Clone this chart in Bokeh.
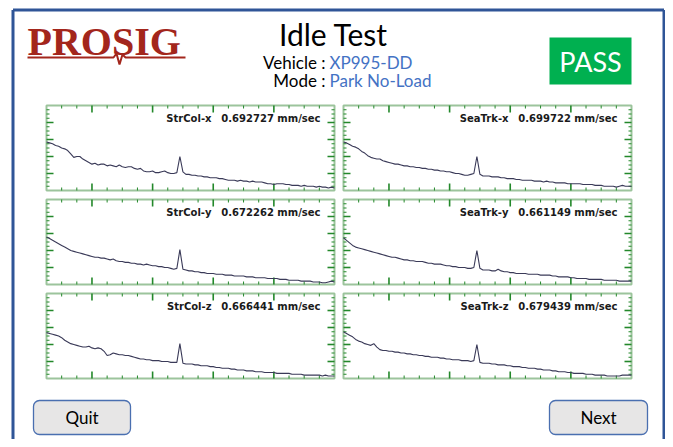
from bokeh.plotting import figure
from bokeh.models import Range1d
from bokeh.embed import file_html
from bokeh.resources import INLINE
from bokeh.core.properties import value

# ---------------- data ----------------
freqs = list(range(25, 501, 5))  # Hz, 96 points

str_col_x = [
    .57, .56, .55, .53, .52, .50, .49, .47, .43, .39,
    .40, .40, .37, .35, .33, .31, .32, .30, .31, .31,
    .29, .30, .29, .28, .30, .28, .27, .28, .28, .26,
    .25, .26, .23, .22, .22, .23, .21, .21, .22, .23,
    .21, .20, .20, .21, .40, .22, .19, .19, .18, .18,
    .17, .17, .16, .16, .15, .15, .15, .14, .14, .13,
    .12, .12, .12, .11, .12, .11, .11, .10, .11, .10,
    .10, .10, .09, .08, .08, .07, .08, .08, .08, .07,
    .07, .06, .06, .06, .05, .06, .05, .05, .05, .04,
    .05, .04, .04, .03, .04, .03]

sea_trk_x = [
    .57, .56, .54, .52, .51, .49, .46, .44, .41, .39,
    .38, .37, .37, .35, .34, .33, .32, .31, .31, .30,
    .29, .29, .28, .28, .27, .27, .26, .26, .25, .25,
    .24, .24, .23, .23, .22, .22, .21, .20, .20, .19,
    .18, .18, .19, .20, .40, .19, .17, .17, .17, .16,
    .16, .16, .15, .15, .14, .14, .14, .13, .13, .12,
    .12, .12, .12, .11, .11, .11, .10, .11, .10, .10,
    .09, .09, .09, .09, .08, .08, .08, .08, .08, .07,
    .07, .07, .07, .06, .06, .06, .05, .05, .05, .05,
    .04, .05, .06, .05, .05, .05]

str_col_y = [
    .56, .54, .52, .50, .48, .46, .44, .42, .40, .39,
    .38, .37, .36, .35, .34, .33, .32, .32, .31, .31,
    .30, .29, .30, .28, .27, .27, .26, .26, .25, .25,
    .24, .24, .23, .24, .23, .22, .22, .21, .21, .20,
    .20, .19, .18, .19, .41, .18, .17, .16, .16, .15,
    .15, .14, .14, .13, .13, .13, .12, .12, .12, .11,
    .11, .11, .10, .10, .10, .10, .09, .09, .09, .08,
    .08, .08, .08, .07, .07, .07, .07, .06, .06, .06,
    .05, .05, .05, .05, .04, .04, .04, .04, .03, .03,
    .03, .02, .02, .03, .04, .03]

sea_trk_y = [
    .55, .52, .49, .46, .44, .43, .42, .41, .40, .39,
    .38, .37, .36, .35, .34, .33, .32, .32, .31, .30,
    .29, .29, .28, .28, .27, .27, .27, .26, .25, .25,
    .24, .24, .24, .23, .22, .22, .21, .21, .20, .20,
    .20, .19, .19, .20, .40, .19, .17, .17, .17, .16,
    .16, .18, .16, .15, .15, .14, .14, .13, .13, .13,
    .13, .12, .12, .12, .12, .11, .11, .11, .11, .10,
    .10, .09, .09, .09, .09, .08, .08, .07, .07, .07,
    .07, .06, .06, .06, .06, .06, .05, .05, .05, .05,
    .05, .04, .04, .04, .04, .04]

str_col_z = [
    .54, .53, .52, .51, .50, .48, .45, .43, .41, .40,
    .39, .38, .37, .37, .38, .36, .35, .36, .35, .32,
    .27, .28, .30, .29, .28, .28, .27, .27, .26, .25,
    .24, .23, .23, .22, .22, .21, .21, .21, .20, .20,
    .20, .19, .19, .19, .41, .18, .17, .17, .17, .16,
    .16, .15, .15, .15, .14, .14, .13, .13, .12, .12,
    .12, .11, .11, .10, .10, .10, .09, .09, .09, .08,
    .08, .08, .07, .07, .07, .07, .06, .06, .06, .06,
    .06, .05, .05, .05, .05, .04, .04, .04, .04, .04,
    .04, .03, .04, .03, .03, .03]

sea_trk_z = [
    .55, .53, .51, .49, .46, .44, .43, .41, .40, .39,
    .41, .37, .34, .33, .33, .32, .32, .31, .31, .30,
    .30, .29, .29, .28, .28, .27, .27, .26, .26, .25,
    .25, .25, .24, .24, .23, .23, .22, .22, .22, .21,
    .21, .21, .20, .21, .40, .19, .18, .18, .18, .17,
    .17, .16, .16, .16, .15, .15, .14, .14, .14, .13,
    .13, .12, .12, .12, .11, .11, .10, .10, .10, .09,
    .09, .08, .08, .08, .07, .07, .06, .06, .06, .06,
    .05, .05, .05, .04, .04, .04, .04, .03, .03, .03,
    .03, .03, .04, .04, .04, .04]

channel_names = ["StrCol-x", "SeaTrk-x", "StrCol-y", "SeaTrk-y", "StrCol-z", "SeaTrk-z"]
channel_rms = ["0.692727", "0.699722", "0.672262", "0.661149", "0.666441", "0.679439"]
channel_units = "mm/sec"
channel_series = [str_col_x, sea_trk_x, str_col_y, sea_trk_y, str_col_z, sea_trk_z]

x_major_ticks = [100, 200, 300, 400]
x_minor_ticks = [50, 75, 125, 150, 175, 225, 250, 275, 325, 350, 375, 425, 450, 475]
y_major_ticks = [0.2, 0.4, 0.6, 0.8]
y_minor_ticks = [0.05, 0.1, 0.15, 0.25, 0.3, 0.35, 0.45, 0.5, 0.55,
                 0.65, 0.7, 0.75, 0.85, 0.9, 0.95]

title_text = "Idle Test"
vehicle_label, vehicle_value = "Vehicle :", "XP995-DD"
mode_label, mode_value = "Mode :", "Park No-Load"
status_text = "PASS"
button_texts = ["Quit", "Next"]
logo_text = "PROSIG"

# ---------------- layout (pixel coordinates) ----------------
W, H = 665, 439

BLUE = "#2F5597"
RED = "#A3261C"
TICK = "#23882A"
FRAME = "#9CC49C"
TRACE = "#3A3A58"
UI_FONT = "Lato"

p = figure(width=W, height=H, x_range=Range1d(0, W), y_range=Range1d(H, 0),
           output_backend="svg", toolbar_location=None, min_border=0,
           x_axis_type=None, y_axis_type=None, outline_line_color=None,
           background_fill_color="white", border_fill_color="white")
p.grid.visible = False

# outer blue frame
p.segment(x0=[12.5, 12.5, W - 1.5], y0=[H, 9.5, 9.5], x1=[12.5, W - 1.5, W - 1.5], y1=[9.5, 9.5, H],
          line_color=BLUE, line_width=3)

# logo
p.text(x=[27], y=[41], text=[logo_text], text_font=value("Liberation Serif"), text_font_style="bold",
       text_font_size="40px", text_color=RED, text_baseline="middle", text_align="left")
logo_x = [27, 113, 116, 119, 122, 125, 185]
logo_y = [57, 57, 53, 64, 54, 57, 57]
p.line(logo_x, logo_y, line_color=RED, line_width=2)

# header texts
p.text(x=[333], y=[33], text=[title_text], text_font=value(UI_FONT), text_font_size="30px",
       text_color="black", text_align="center", text_baseline="middle")
p.text(x=[325, 325], y=[62, 80], text=[vehicle_label, mode_label], text_font=value(UI_FONT),
       text_font_size="17px", text_color="black", text_align="right", text_baseline="middle")
p.text(x=[329, 329], y=[62, 80], text=[vehicle_value, mode_value], text_font=value(UI_FONT),
       text_font_size="17px", text_color="#4472C4", text_align="left", text_baseline="middle")

# PASS box
p.quad(left=[549], right=[631], top=[37], bottom=[84], fill_color="#00B050", line_color=None)
p.text(x=[590], y=[61], text=[status_text], text_font=value(UI_FONT), text_font_size="27px",
       text_color="white", text_align="center", text_baseline="middle")

# buttons
btn_left = [33, 549]
btn_right = [130, 647]
p.quad(left=btn_left, right=btn_right, top=[400, 400], bottom=[434, 434], fill_color="#E7E6E6",
       line_color="#4A6FB0", line_width=1.3, border_radius=6)
p.text(x=[(a + b) / 2 for a, b in zip(btn_left, btn_right)], y=[417, 417], text=button_texts,
       text_font=value(UI_FONT), text_font_size="17px", text_color="black",
       text_align="center", text_baseline="middle")

# panels
panel_cols = [(46, 334), (343, 631)]
panel_rows = [(105, 190), (199, 284), (293, 378)]
FMIN, FMAX = 25, 500
YMIN, YMAX = 0.0, 1.0

for i, series in enumerate(channel_series):
    x0, x1 = panel_cols[i % 2]
    y0, y1 = panel_rows[i // 2]
    p.quad(left=[x0], right=[x1], top=[y0], bottom=[y1], fill_color="white",
           line_color=FRAME, line_width=2)
    sub = p.subplot(x_source=Range1d(FMIN, FMAX), y_source=Range1d(YMIN, YMAX),
                    x_target=Range1d(x0, x1), y_target=Range1d(y1, y0))
    ppx = (x1 - x0) / (FMAX - FMIN)
    ppy = (y1 - y0) / (YMAX - YMIN)
    for ticks, ln, lw in ((x_major_ticks, 7, 1.6), (x_minor_ticks, 3, 1.0)):
        d = ln / ppy
        sub.segment(x0=ticks, y0=[YMIN] * len(ticks), x1=ticks, y1=[YMIN + d] * len(ticks),
                    line_color=TICK, line_width=lw)
        sub.segment(x0=ticks, y0=[YMAX] * len(ticks), x1=ticks, y1=[YMAX - d] * len(ticks),
                    line_color=TICK, line_width=lw)
    for ticks, ln, lw in ((y_major_ticks, 7, 1.6), (y_minor_ticks, 3, 1.0)):
        d = ln / ppx
        sub.segment(x0=[FMIN] * len(ticks), y0=ticks, x1=[FMIN + d] * len(ticks), y1=ticks,
                    line_color=TICK, line_width=lw)
        sub.segment(x0=[FMAX] * len(ticks), y0=ticks, x1=[FMAX - d] * len(ticks), y1=ticks,
                    line_color=TICK, line_width=lw)
    sub.line(freqs, series, line_color=TRACE, line_width=1.1)
    p.text(x=[x1 - 14], y=[y0 + 13], text=[channel_rms[i] + " " + channel_units],
           text_font=value("DejaVu Sans"), text_font_style="bold", text_font_size="10px",
           text_color="#1A1A1A", text_align="right", text_baseline="middle")
    p.text(x=[x1 - 123], y=[y0 + 13], text=[channel_names[i]],
           text_font=value("DejaVu Sans"), text_font_style="bold", text_font_size="10px",
           text_color="#1A1A1A", text_align="right", text_baseline="middle")

open("out.html", "w").write(file_html(p, INLINE))
